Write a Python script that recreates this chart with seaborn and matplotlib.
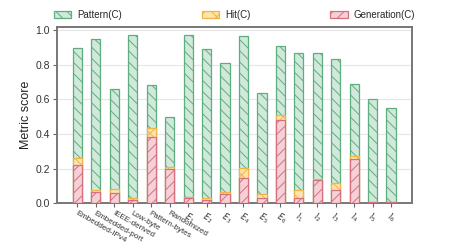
import matplotlib
matplotlib.use("Agg")
import matplotlib.pyplot as plt
import seaborn as sns
import numpy as np
import pandas as pd
from matplotlib.patches import Patch

categories = ["Embedded-IPv4", "Embedded-port", "IEEE-derived", "Low-byte",
              "Pattern-bytes", "Randomized",
              "E1", "E2", "E3", "E4", "E5", "E6",
              "I1", "I2", "I3", "I4", "I5", "I6"]
tick_labels = ["Embedded-IPv4", "Embedded-port", "IEEE-derived", "Low-byte",
               "Pattern-bytes", "Randomized",
               "$E_1$", "$E_2$", "$E_3$", "$E_4$", "$E_5$", "$E_6$",
               "$I_1$", "$I_2$", "$I_3$", "$I_4$", "$I_5$", "$I_6$"]
generation = [0.222, 0.062, 0.056, 0.019, 0.383, 0.197, 0.031, 0.019, 0.054,
              0.143, 0.029, 0.482, 0.027, 0.135, 0.073, 0.257, 0.004, 0.004]
hit = [0.039, 0.015, 0.027, 0.012, 0.050, 0.010, 0.006, 0.010, 0.008,
       0.062, 0.023, 0.031, 0.050, 0.004, 0.045, 0.016, 0.000, 0.000]
pattern = [0.640, 0.871, 0.580, 0.940, 0.248, 0.294, 0.934, 0.861, 0.752,
           0.760, 0.586, 0.394, 0.791, 0.733, 0.716, 0.419, 0.596, 0.547]

sns.set_theme(style="ticks")
plt.rcParams["font.family"] = ["Liberation Sans", "DejaVu Sans"]
plt.rcParams["hatch.linewidth"] = 0.7

gen = np.array(generation)
hit_top = gen + np.array(hit)
total = hit_top + np.array(pattern)
df = pd.DataFrame({"cat": categories, "total": total, "hit_top": hit_top, "gen": gen})

fig = plt.figure(figsize=(4.57, 2.45), dpi=100)
ax = fig.add_axes([0.125, 0.171, 0.776, 0.719])

styles = {
    "Pattern(C)": dict(face="#d0e9da", edge="#5fae80", hatch="\\\\\\"),
    "Hit(C)": dict(face="#fde4ad", edge="#f0b548", hatch="xx"),
    "Generation(C)": dict(face="#f5d0d7", edge="#d5707f", hatch="///"),
}

for col, name in [("total", "Pattern(C)"), ("hit_top", "Hit(C)"), ("gen", "Generation(C)")]:
    st = styles[name]
    sns.barplot(data=df, x="cat", y=col, order=categories, ax=ax, width=0.5,
                color=st["face"], edgecolor=st["edge"], hatch=st["hatch"],
                linewidth=0.9, saturation=1, zorder=3)

ax.set_ylim(0, 1.02)
ax.set_xlim(-1.1, len(categories) - 1 + 1.12)
ax.set_yticks([0.0, 0.2, 0.4, 0.6, 0.8, 1.0])
ax.set_yticklabels(["0.0", "0.2", "0.4", "0.6", "0.8", "1.0"], fontsize=7.5, color="#333333")
ax.yaxis.grid(True, color="#e6e6e6", linewidth=0.8, zorder=0)
ax.set_axisbelow(True)
ax.set_xticks(range(len(categories)))
ax.set_xticklabels(tick_labels, rotation=-30, ha="left", va="top",
                   rotation_mode="anchor", fontsize=5.8, color="#333333")
ax.set_xlabel("")
ax.set_ylabel("Metric score", fontsize=9, color="#222222", labelpad=3)
ax.tick_params(axis="both", length=3, width=0.8, color="#666666", pad=2)
for s in ax.spines.values():
    s.set_color("#777777")
    s.set_linewidth(1.4)
    s.set_visible(True)

handles = [Patch(facecolor=styles[n]["face"], edgecolor=styles[n]["edge"],
                 hatch=styles[n]["hatch"], linewidth=0.9, label=n)
           for n in ["Pattern(C)", "Hit(C)", "Generation(C)"]]
ax.legend(handles=handles, loc="lower center", bbox_to_anchor=(0.5, 1.005), ncol=3,
          frameon=False, fontsize=7, columnspacing=8.2, handlelength=1.8,
          handleheight=0.7, handletextpad=0.6, borderaxespad=0.2)

fig.savefig("out.png", dpi=100)
